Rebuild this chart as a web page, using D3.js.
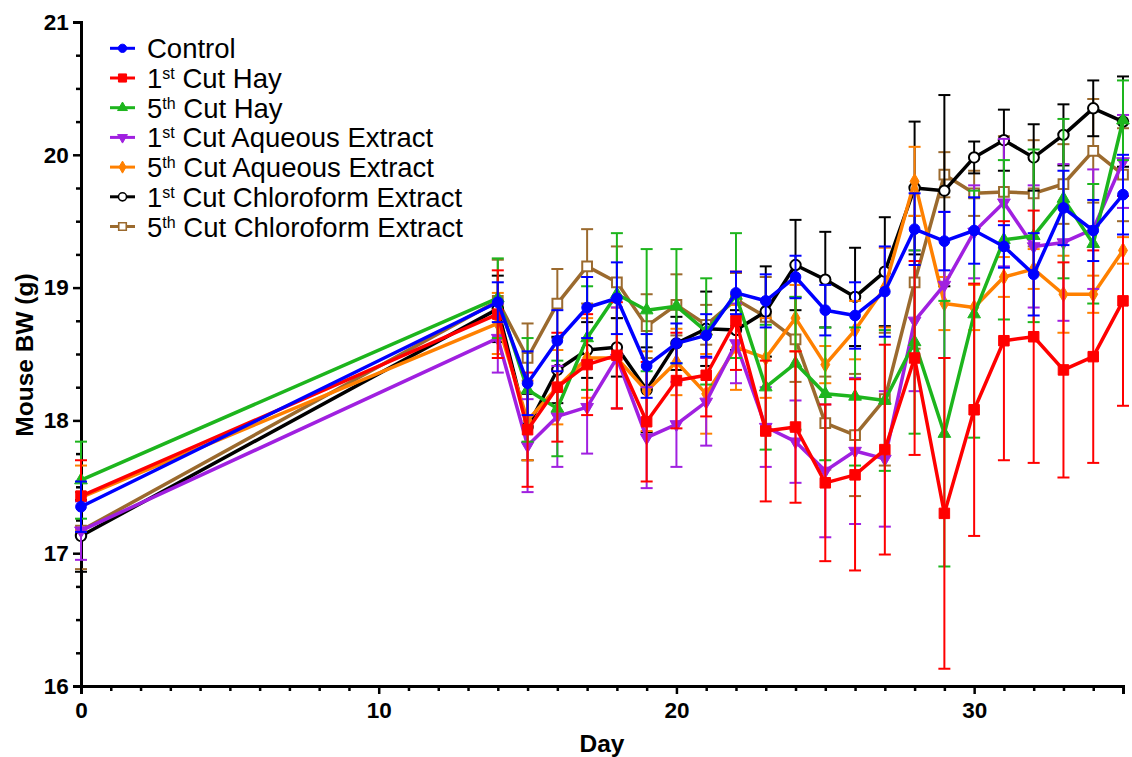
<!DOCTYPE html>
<html>
<head>
<meta charset="utf-8">
<script src="https://cdn.jsdelivr.net/npm/d3@7"></script>
<style>
  body { margin: 0; background: #fff; }
  text { font-family: Arial, "Liberation Sans", sans-serif; }
</style>
</head>
<body>
<svg id="chart" width="1132" height="757"></svg>
<script>
// days sampled
const days = [0, 14, 15, 16, 17, 18, 19, 20, 21, 22, 23, 24, 25, 26, 27, 28, 29, 30, 31, 32, 33, 34, 35];

// mean body weight (g) and SEM for each group
const control    = [17.35, 18.89, 18.28, 18.60, 18.85, 18.92, 18.41, 18.58, 18.64, 18.96, 18.90, 19.08, 18.83, 18.79, 18.97, 19.44, 19.35, 19.43, 19.31, 19.10, 19.60, 19.43, 19.70];
const controlSem = [0.19, 0.15, 0.24, 0.23, 0.23, 0.27, 0.24, 0.15, 0.16, 0.16, 0.20, 0.16, 0.19, 0.25, 0.34, 0.27, 0.22, 0.25, 0.16, 0.31, 0.28, 0.23, 0.30];

const hay1    = [17.43, 18.80, 17.93, 18.25, 18.42, 18.49, 17.99, 18.30, 18.34, 18.75, 17.92, 17.95, 17.53, 17.59, 17.78, 18.47, 17.30, 18.08, 18.60, 18.63, 18.38, 18.48, 18.90];
const hay1Sem = [0.27, 0.33, 0.43, 0.41, 0.38, 0.40, 0.45, 0.36, 0.31, 0.37, 0.53, 0.57, 0.59, 0.72, 0.79, 0.73, 1.17, 0.95, 0.90, 0.95, 0.81, 0.80, 0.79];

const hay5    = [17.55, 18.92, 18.23, 18.09, 18.62, 18.95, 18.83, 18.86, 18.67, 18.94, 18.25, 18.43, 18.20, 18.18, 18.15, 18.59, 17.90, 18.80, 19.36, 19.39, 19.67, 19.33, 20.26];
const hay5Sem = [0.29, 0.30, 0.39, 0.36, 0.39, 0.46, 0.46, 0.43, 0.40, 0.47, 0.47, 0.50, 0.50, 0.52, 0.53, 0.69, 1.00, 0.93, 0.60, 0.65, 0.60, 0.45, 0.30];

const aq1    = [17.17, 18.62, 17.81, 18.03, 18.10, 18.47, 17.87, 17.97, 18.14, 18.58, 17.95, 17.84, 17.62, 17.77, 17.71, 18.75, 19.02, 19.42, 19.64, 19.31, 19.34, 19.44, 19.95];
const aq1Sem = [0.22, 0.26, 0.35, 0.38, 0.35, 0.38, 0.38, 0.32, 0.33, 0.30, 0.30, 0.31, 0.50, 0.55, 0.51, 0.53, 0.55, 0.35, 0.48, 0.46, 0.59, 0.45, 0.35];

const aq5    = [17.42, 18.73, 18.00, 18.25, 18.47, 18.47, 18.22, 18.44, 18.20, 18.55, 18.47, 18.77, 18.42, 18.68, 19.00, 19.80, 18.88, 18.85, 19.08, 19.14, 18.95, 18.95, 19.28];
const aq5Sem = [0.24, 0.23, 0.30, 0.28, 0.30, 0.38, 0.30, 0.25, 0.30, 0.32, 0.30, 0.25, 0.14, 0.22, 0.30, 0.26, 0.20, 0.17, 0.15, 0.15, 0.29, 0.14, 0.10];

const chl1    = [17.13, 18.84, 17.95, 18.38, 18.53, 18.55, 18.23, 18.58, 18.69, 18.68, 18.82, 19.17, 19.06, 18.93, 19.12, 19.75, 19.73, 19.98, 20.11, 19.98, 20.15, 20.35, 20.25];
const chl1Sem = [0.27, 0.25, 0.25, 0.25, 0.21, 0.22, 0.32, 0.20, 0.28, 0.15, 0.34, 0.34, 0.36, 0.37, 0.41, 0.50, 0.72, 0.12, 0.23, 0.25, 0.23, 0.21, 0.34];

const chl5    = [17.17, 18.90, 18.47, 18.88, 19.16, 19.04, 18.71, 18.87, 18.72, 18.91, 18.78, 18.61, 17.98, 17.89, 18.16, 19.04, 19.85, 19.71, 19.72, 19.71, 19.78, 20.03, 19.85];
const chl5Sem = [0.29, 0.31, 0.26, 0.26, 0.28, 0.27, 0.24, 0.23, 0.15, 0.20, 0.30, 0.32, 0.35, 0.46, 0.50, 0.50, 0.17, 0.17, 0.42, 0.40, 0.30, 0.39, 0.35];

// legend labels split as: number, superscript ordinal, rest
const groups = [
  { num: "Control", sup: "", rest: "", mean: control, sem: controlSem, color: "#0000ff", shape: d3.symbolCircle, size: 90, open: false },
  { num: "1", sup: "st", rest: " Cut Hay", mean: hay1, sem: hay1Sem, color: "#ff0000", shape: d3.symbolSquare, size: 110, open: false },
  { num: "5", sup: "th", rest: " Cut Hay", mean: hay5, sem: hay5Sem, color: "#1db51d", shape: d3.symbolTriangle, size: 70, open: false },
  { num: "1", sup: "st", rest: " Cut Aqueous Extract", mean: aq1, sem: aq1Sem, color: "#a020e0", shape: d3.symbolTriangle, size: 70, open: false, flip: true },
  { num: "5", sup: "th", rest: " Cut Aqueous Extract", mean: aq5, sem: aq5Sem, color: "#ff8000", shape: d3.symbolDiamond, size: 70, open: false },
  { num: "1", sup: "st", rest: " Cut Chloroform Extract", mean: chl1, sem: chl1Sem, color: "#000000", shape: d3.symbolCircle, size: 85, open: true },
  { num: "5", sup: "th", rest: " Cut Chloroform Extract", mean: chl5, sem: chl5Sem, color: "#9b6a2e", shape: d3.symbolSquare, size: 95, open: true }
];

const svg = d3.select("#chart");
const plotLeft = 81, plotRight = 1123, plotTop = 22, plotBottom = 686;

let x = d3.scaleLinear().domain([0, 35]).range([plotLeft, plotRight]);
let y = d3.scaleLinear().domain([16, 21]).range([plotBottom, plotTop]);

// axes
let xAxis = svg.append("g").attr("transform", `translate(0,${plotBottom})`)
  .call(d3.axisBottom(x).tickValues([0, 10, 20, 30]).tickSize(8).tickFormat(d3.format("d")));
svg.append("g").attr("transform", `translate(0,${plotBottom})`)
  .call(d3.axisBottom(x).tickValues(d3.range(0, 36).filter(d => d % 10 != 0)).tickSize(5).tickFormat(""))
  .call(g => g.select(".domain").remove());

let yAxis = svg.append("g").attr("transform", `translate(${plotLeft},0)`)
  .call(d3.axisLeft(y).tickValues([16, 17, 18, 19, 20, 21]).tickSize(8).tickFormat(d3.format("d")));
svg.append("g").attr("transform", `translate(${plotLeft},0)`)
  .call(d3.axisLeft(y).tickValues(d3.range(16, 21.01, 0.25).filter(d => d % 1 != 0)).tickSize(5).tickFormat(""))
  .call(g => g.select(".domain").remove());

svg.selectAll(".domain").attr("stroke", "#000").attr("stroke-width", 3);
svg.selectAll(".tick line").attr("stroke", "#000").attr("stroke-width", 2.5);
xAxis.selectAll(".tick text").attr("font-size", 22.5).attr("font-weight", "bold").attr("dy", "0.95em");
yAxis.selectAll(".tick text").attr("font-size", 22.5).attr("font-weight", "bold").attr("dx", "-0.05em");
svg.selectAll(".tick text").attr("fill", "#000").style("font-family", "Arial, 'Liberation Sans', sans-serif");

// axis titles
svg.append("text")
  .attr("x", 602).attr("y", 752)
  .attr("text-anchor", "middle")
  .attr("font-size", 24.5).attr("font-weight", "bold")
  .text("Day");

svg.append("text")
  .attr("transform", "translate(33,355) rotate(-90)")
  .attr("text-anchor", "middle")
  .attr("font-size", 24.5).attr("font-weight", "bold")
  .text("Mouse BW (g)");

let line = d3.line().x(d => x(d.day)).y(d => y(d.v));

// draw back to front so Control ends on top
let drawOrder = [6, 5, 4, 3, 2, 1, 0];
drawOrder.forEach(i => {
  let grp = groups[i];
  let pts = days.map((day, j) => ({ day: day, v: grp.mean[j], e: grp.sem[j] }));
  let layer = svg.append("g");

  // error bars
  let eb = layer.selectAll(".eb").data(pts).enter().append("g");
  eb.append("line")
    .attr("x1", d => x(d.day)).attr("x2", d => x(d.day))
    .attr("y1", d => y(d.v - d.e)).attr("y2", d => y(d.v + d.e))
    .attr("stroke", grp.color).attr("stroke-width", 2);
  [-1, 1].forEach(s => {
    eb.append("line")
      .attr("x1", d => x(d.day) - 6).attr("x2", d => x(d.day) + 6)
      .attr("y1", d => y(d.v + s * d.e)).attr("y2", d => y(d.v + s * d.e))
      .attr("stroke", grp.color).attr("stroke-width", 2);
  });

  layer.append("path")
    .datum(pts)
    .attr("d", line)
    .attr("fill", "none")
    .attr("stroke", grp.color)
    .attr("stroke-width", 3.5)
    .attr("stroke-linejoin", "round");

  layer.selectAll(".pt").data(pts).enter().append("path")
    .attr("d", d3.symbol().type(grp.shape).size(grp.size))
    .attr("transform", d => `translate(${x(d.day)},${y(d.v)})` + (grp.flip ? " rotate(180)" : ""))
    .attr("fill", grp.open ? "#fff" : grp.color)
    .attr("stroke", grp.color)
    .attr("stroke-width", grp.open ? 2 : 1);
});

// legend
let legend = svg.append("g");
groups.forEach((grp, i) => {
  let ly = 48.3 + i * 29.7;
  legend.append("line")
    .attr("x1", 110).attr("x2", 135).attr("y1", ly).attr("y2", ly)
    .attr("stroke", grp.color).attr("stroke-width", 3);
  legend.append("path")
    .attr("d", d3.symbol().type(grp.shape).size(grp.size * 0.6))
    .attr("transform", `translate(122.5,${ly})` + (grp.flip ? " rotate(180)" : ""))
    .attr("fill", grp.open ? "#fff" : grp.color)
    .attr("stroke", grp.color)
    .attr("stroke-width", grp.open ? 1.6 : 1);
  let t = legend.append("text")
    .attr("x", 147).attr("y", ly + 10)
    .attr("font-size", 27.5);
  t.append("tspan").text(grp.num);
  if (grp.sup) {
    t.append("tspan").attr("font-size", 16).attr("dy", -9).text(grp.sup);
    t.append("tspan").attr("dy", 9).text(grp.rest);
  }
});
</script>
</body>
</html>
